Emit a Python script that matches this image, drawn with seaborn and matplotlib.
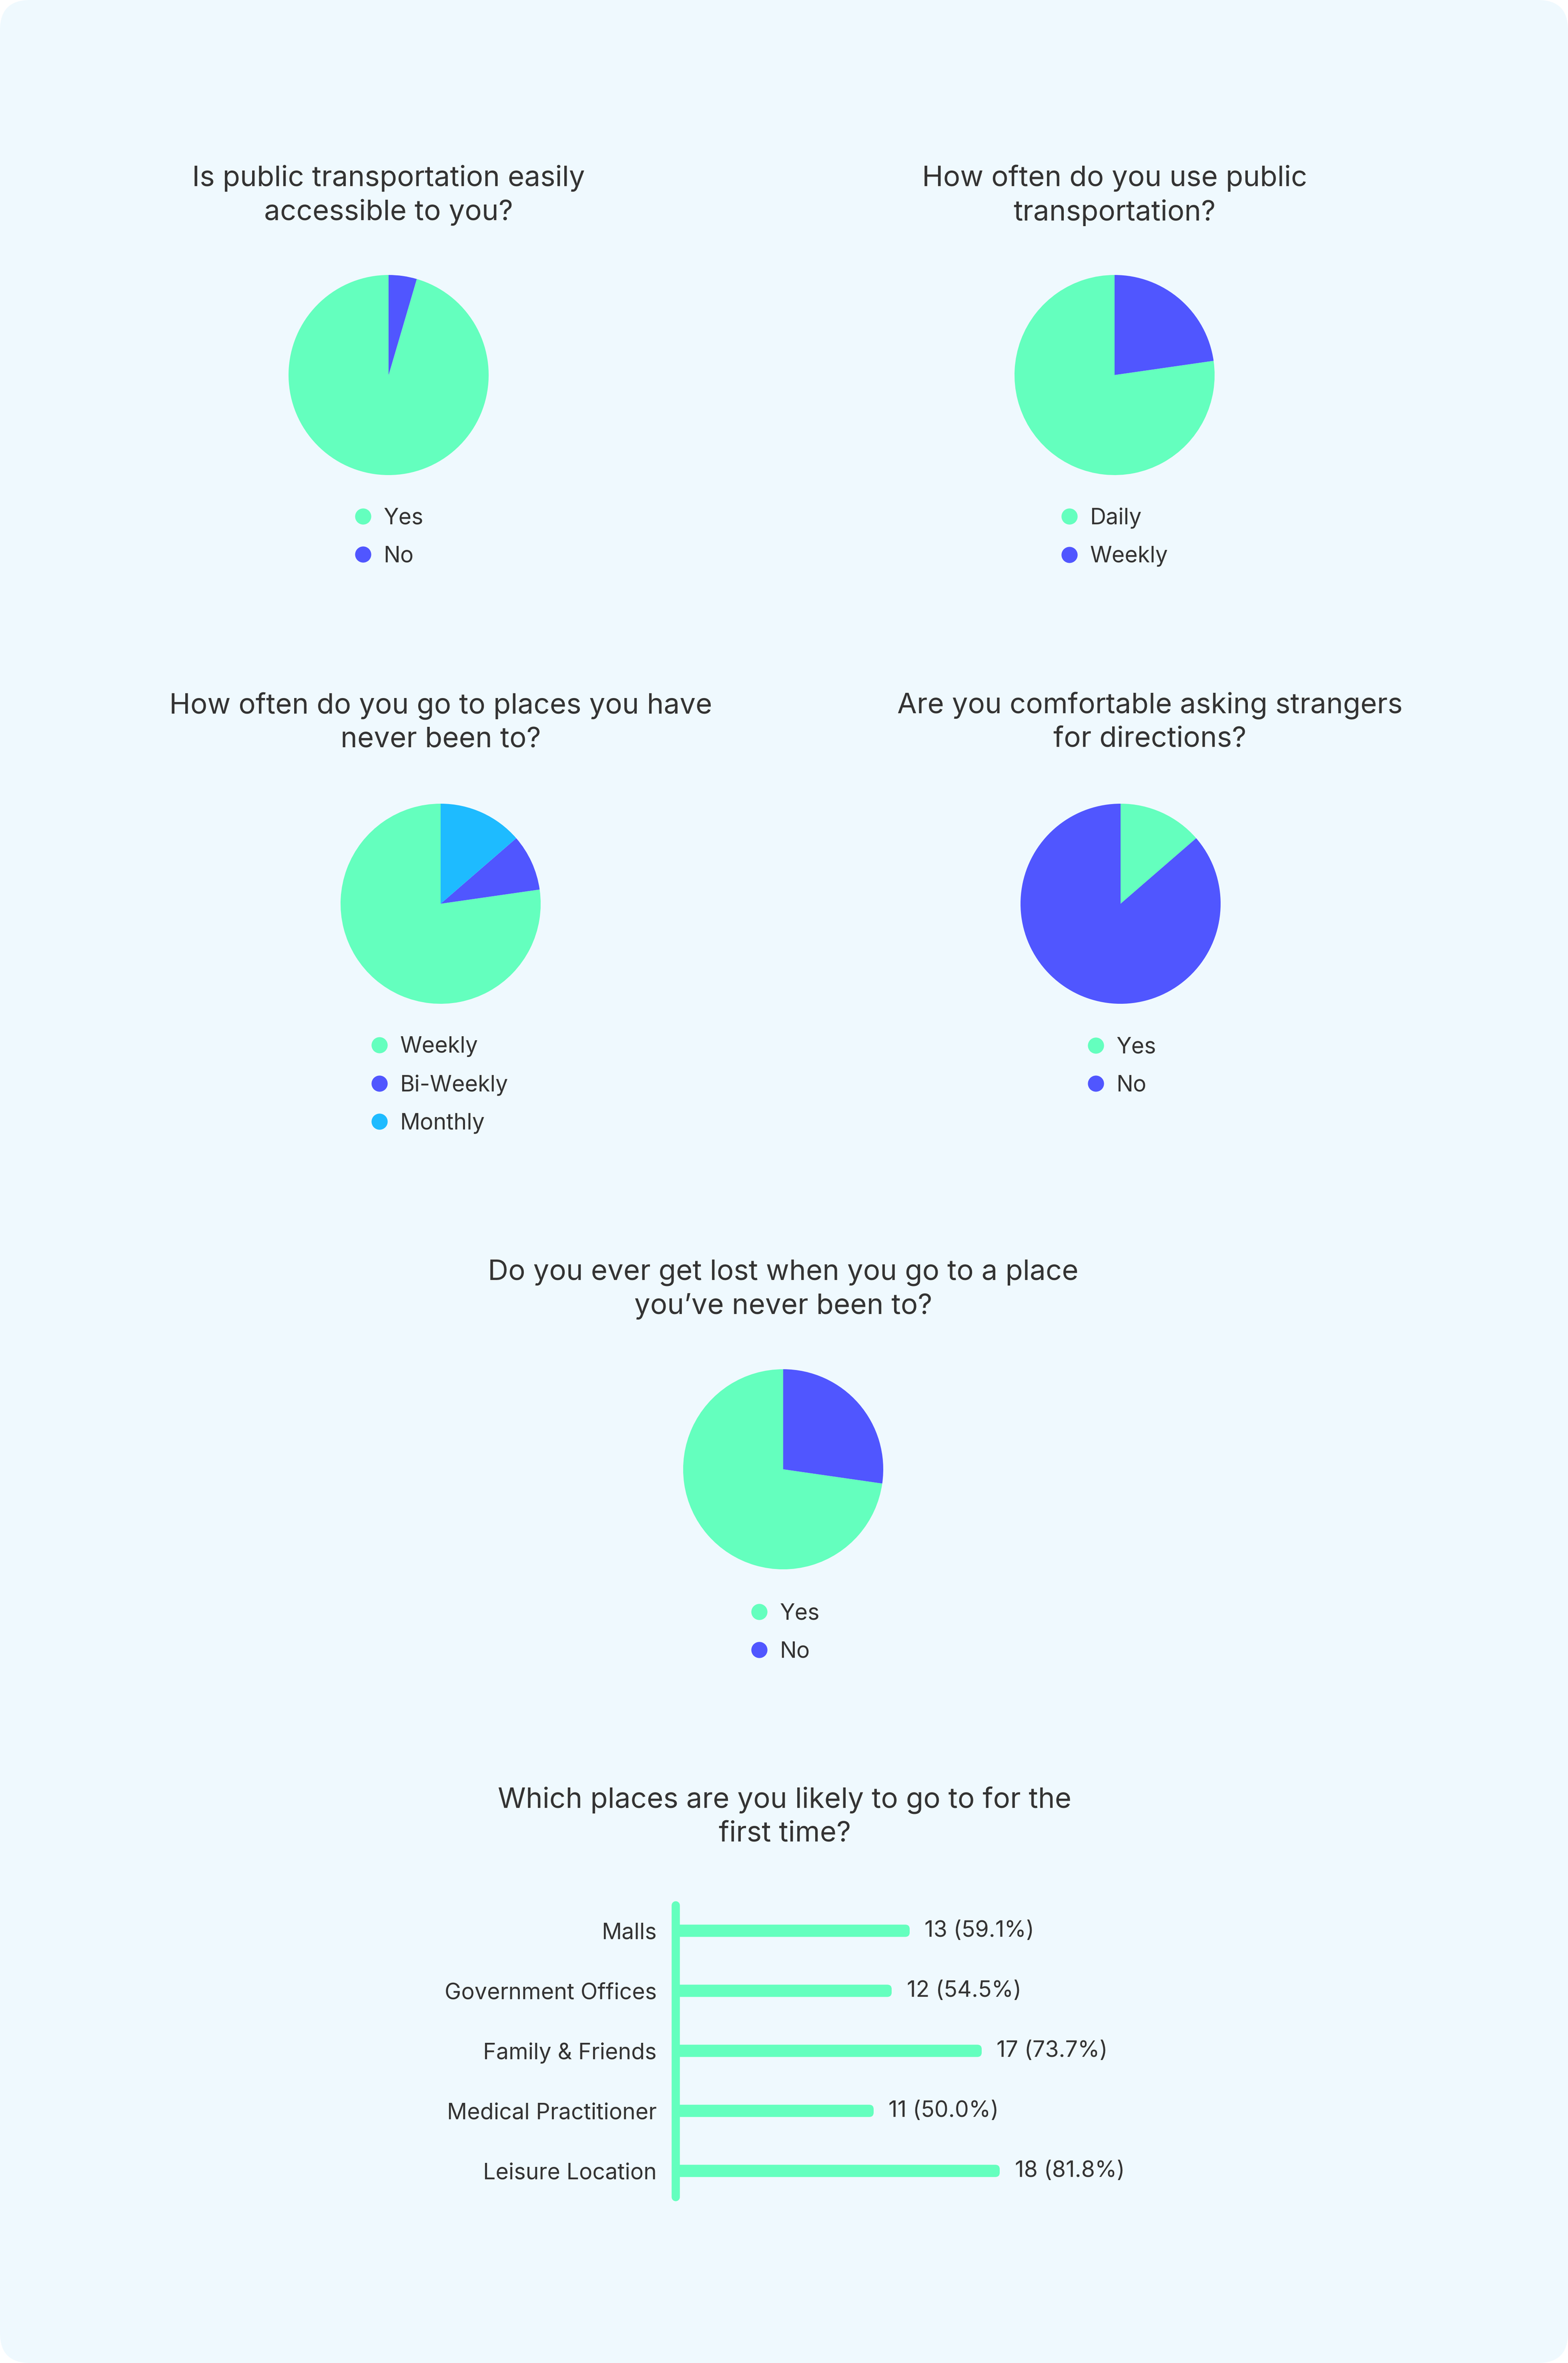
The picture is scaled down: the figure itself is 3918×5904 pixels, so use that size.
import numpy as np
import pandas as pd
import matplotlib
matplotlib.use("Agg")
import matplotlib.pyplot as plt
import seaborn as sns
from matplotlib.lines import Line2D
from matplotlib.patches import FancyBboxPatch

# survey answers (22 responses)
access_labels = ["Yes", "No"]
access_counts = [21, 1]

usage_labels = ["Daily", "Weekly"]
usage_counts = [17, 5]

newplace_labels = ["Weekly", "Bi-Weekly", "Monthly"]
newplace_counts = [17, 2, 3]

strangers_labels = ["Yes", "No"]
strangers_counts = [3, 19]

lost_labels = ["Yes", "No"]
lost_counts = [16, 6]

places = ["Malls", "Government Offices", "Family & Friends", "Medical Practitioner", "Leisure Location"]
place_counts = [13, 12, 17, 11, 18]
place_labels = ["13 (59.1%)", "12 (54.5%)", "17 (73.7%)", "11 (50.0%)", "18 (81.8%)"]

GREEN = "#64FFBE"
BLUE = "#5056FF"
CYAN = "#1EBBFF"
BG = "#EFF9FE"
TXT = "#333333"

W, H = 3918, 5904
TITLE_FS = 51
TEXT_FS = 40

sns.set_theme(style="white")
plt.rcParams["font.family"] = ["Inter", "DejaVu Sans"]

fig = plt.figure(figsize=(W / 100, H / 100), dpi=100)
fig.patch.set_facecolor("white")

# rounded card behind everything
card = FancyBboxPatch((0, 0), 1, 1, boxstyle="round,pad=0,rounding_size=%f" % (75 / W),
                      mutation_aspect=W / H, transform=fig.transFigure,
                      facecolor=BG, edgecolor="none", zorder=-10)
fig.patches.append(card)


def fx(px):
    return px / W


def fy(py):
    return 1 - py / H


def pie_panel(title, tx, ty, cx, cy, labels, counts, colors, lx, ly, ccw=True):
    r = 250
    ax = fig.add_axes([fx(cx - r), fy(cy + r), 2 * r / W, 2 * r / H])
    ax.pie(counts, colors=colors, startangle=90, counterclock=ccw,
           wedgeprops=dict(linewidth=0))
    ax.set_xlim(-1, 1)
    ax.set_ylim(-1, 1)
    ax.axis("off")

    fig.text(fx(tx), fy(ty), title, ha="center", va="center", fontsize=TITLE_FS,
             color=TXT, linespacing=1.35)

    handles = [Line2D([0], [0], marker="o", ls="none", markersize=28,
                      markerfacecolor=c, markeredgecolor=c) for c in colors]
    n = len(labels)
    fig.legend(handles, labels, loc="center left",
               bbox_to_anchor=(fx(lx - 21), fy(ly + 7 + 48 * (n - 1))),
               bbox_transform=fig.transFigure, frameon=False, fontsize=TEXT_FS,
               handlelength=0.75, handletextpad=0.55, labelspacing=0.78,
               borderpad=0, borderaxespad=0, labelcolor=TXT)


pie_panel("Is public transportation easily\naccessible to you?", 971, 488,
          971, 937, access_labels, access_counts, [GREEN, BLUE], 907, 1287)
pie_panel("How often do you use public\ntransportation?", 2785, 488,
          2785, 937, usage_labels, usage_counts, [GREEN, BLUE], 2672, 1287)
pie_panel("How often do you go to places you have\nnever been to?", 1101, 1806,
          1101, 2258, newplace_labels, newplace_counts, [GREEN, BLUE, CYAN], 948, 2608)
pie_panel("Are you comfortable asking strangers\nfor directions?", 2873, 1805,
          2800, 2258, strangers_labels, strangers_counts, [GREEN, BLUE], 2738, 2609, ccw=False)
pie_panel("Do you ever get lost when you go to a place\nyou\u2019ve never been to?", 1957, 3222,
          1957, 3671, lost_labels, lost_counts, [GREEN, BLUE], 1897, 4024)

# bar chart of places
fig.text(fx(1961), fy(4540), "Which places are you likely to go to for the\nfirst time?",
         ha="center", va="center", fontsize=TITLE_FS, color=TXT, linespacing=1.35)

ax_w, ax_h = 900, 750
axb = fig.add_axes([fx(1688), fy(4749 + ax_h), ax_w / W, ax_h / H])
axb.set_facecolor("none")
df = pd.DataFrame({"place": places, "count": place_counts})
sns.barplot(data=df, x="count", y="place", color=GREEN, saturation=1,
            width=0.204, ax=axb)
axb.set_xlim(0, 20)
axb.set_ylim(4.5, -0.5)
sns.despine(ax=axb, left=True, bottom=True)
axb.set(xlabel="", ylabel="")
axb.set_xticks([])
axb.tick_params(axis="y", length=0, pad=34, labelsize=TEXT_FS, labelcolor=TXT)

# swap the square bars for ones with rounded ends
px_x = ax_w / 20
px_y = ax_h / 5
for p in axb.patches[:len(places)]:
    x0, y0 = p.get_x(), p.get_y()
    w, h = p.get_width(), p.get_height()
    p.set_facecolor("none")
    p.set_edgecolor("none")
    rb = FancyBboxPatch((-0.2, y0), w + 0.2, h,
                        boxstyle="round,pad=0,rounding_size=%f" % (11 / px_x),
                        mutation_aspect=px_x / px_y, facecolor=GREEN,
                        edgecolor="none", zorder=3)
    axb.add_patch(rb)

axb.plot([0, 0], [-0.43, 4.43], color=GREEN, lw=14.8, solid_capstyle="round",
         zorder=5, clip_on=False)
axb.bar_label(axb.containers[0], labels=place_labels, padding=27, fontsize=TEXT_FS,
              color=TXT)

fig.savefig("out.png", dpi=100, facecolor=fig.get_facecolor())
